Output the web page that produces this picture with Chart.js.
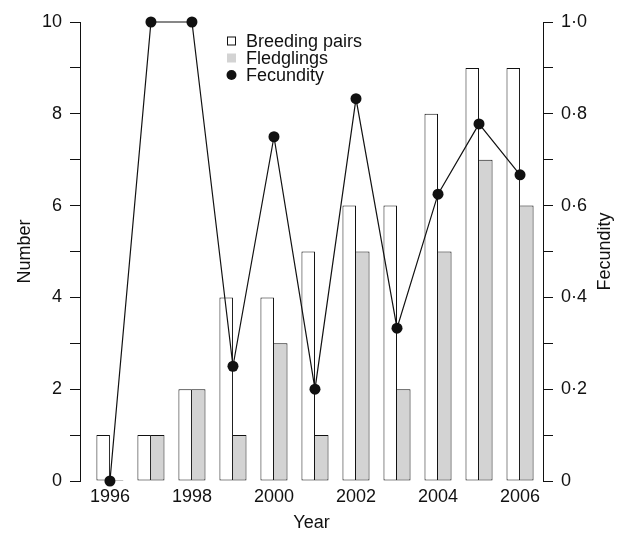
<!DOCTYPE html>
<html>
<head>
<meta charset="utf-8">
<script src="https://cdn.jsdelivr.net/npm/chart.js@4/dist/chart.umd.min.js"></script>
<style>
  html, body { margin: 0; padding: 0; background: #ffffff; }
  canvas { display: block; }
</style>
</head>
<body>
<canvas id="c" width="633" height="534"></canvas>
<script>
// ---- data ----
const years = [1996, 1997, 1998, 1999, 2000, 2001, 2002, 2003, 2004, 2005, 2006];
const breedingPairs = [1, 1, 2, 4, 4, 5, 6, 6, 8, 9, 9];
const fledglings = [0, 1, 2, 1, 3, 1, 5, 2, 5, 7, 6];
const fecundity = [0, 1.0, 1.0, 0.25, 0.75, 0.2, 0.833, 0.333, 0.625, 0.778, 0.667];
const yearTicks = [1996, 1998, 2000, 2002, 2004, 2006];
const numberTickLabels = ['0', '', '2', '', '4', '', '6', '', '8', '', '10'];
const fecundityTickLabels = ['0', '', '0·2', '', '0·4', '', '0·6', '', '0·8', '', '1·0'];
const seriesNames = ['Breeding pairs', 'Fledglings', 'Fecundity'];
const axisTitles = { x: 'Year', y: 'Number', yFec: 'Fecundity' };

const FONT = '"Liberation Sans", Arial, Helvetica, sans-serif';
const FS = 18;

const extrasPlugin = {
  id: 'extras',
  afterDraw(chart) {
    const ctx = chart.ctx;
    const ds = chart.data.datasets;
    const x0 = 227, rowY = [41, 58, 75];
    ctx.save();
    ctx.font = FS + 'px ' + FONT;
    ctx.textBaseline = 'middle';
    ds.forEach((d, i) => {
      const y = rowY[i];
      if (d.type === 'line') {
        ctx.beginPath();
        ctx.arc(x0 + 4.5, y, 5, 0, Math.PI * 2);
        ctx.fillStyle = d.pointBackgroundColor;
        ctx.fill();
      } else {
        ctx.fillStyle = d.backgroundColor;
        ctx.fillRect(x0, y - 4.5, 9, 9);
        if (d.legendBorder) {
          ctx.strokeStyle = '#111';
          ctx.lineWidth = 1;
          ctx.strokeRect(x0 + 0.5, y - 4, 8, 8);
        }
      }
      ctx.fillStyle = '#111';
      ctx.fillText(d.label, x0 + 19, y + 1);
    });
    // right axis title, reading bottom-to-top
    const s = chart.scales.yFec;
    ctx.translate(605, (s.top + s.bottom) / 2);
    ctx.rotate(-Math.PI / 2);
    ctx.textAlign = 'center';
    ctx.fillText(axisTitles.yFec, 0, 0);
    ctx.restore();
  }
};

new Chart(document.getElementById('c'), {
  type: 'bar',
  data: {
    datasets: [
      {
        label: seriesNames[0],
        data: years.map((y, i) => ({ x: y, y: breedingPairs[i] })),
        backgroundColor: '#ffffff',
        borderColor: '#111111',
        borderWidth: 1,
        borderSkipped: false,
        legendBorder: true,
        categoryPercentage: 0.66,
        barPercentage: 1.0,
        yAxisID: 'y',
        order: 1
      },
      {
        label: seriesNames[1],
        data: years.map((y, i) => ({ x: y, y: fledglings[i] })),
        backgroundColor: '#d3d3d3',
        borderColor: '#111111',
        borderWidth: { top: 1, right: 1, bottom: 1, left: 0 },
        borderSkipped: false,
        minBarLength: 1,
        categoryPercentage: 0.66,
        barPercentage: 1.0,
        yAxisID: 'y',
        order: 1
      },
      {
        type: 'line',
        label: seriesNames[2],
        data: years.map((y, i) => ({ x: y, y: fecundity[i] })),
        borderColor: '#111111',
        borderWidth: 1.2,
        pointBackgroundColor: '#111111',
        pointBorderColor: '#111111',
        pointRadius: 5.5,
        pointBorderWidth: 0,
        tension: 0,
        clip: false,
        yAxisID: 'yFec',
        order: 0
      }
    ]
  },
  options: {
    responsive: false,
    animation: false,
    devicePixelRatio: 1,
    layout: { padding: { top: 22, left: 0, right: 0, bottom: 0 } },
    plugins: {
      legend: { display: false },
      tooltip: { enabled: false }
    },
    scales: {
      x: {
        type: 'linear',
        offset: false,
        min: 1995.27,
        max: 2006.56,
        grid: { display: false, drawTicks: false },
        border: { display: false },
        afterBuildTicks(scale) { scale.ticks = yearTicks.map(v => ({ value: v })); },
        afterFit(scale) { scale.height = 53; },
        ticks: {
          color: '#111',
          font: { family: FONT, size: FS },
          padding: 5,
          maxRotation: 0,
          autoSkip: false,
          callback: (v) => String(v)
        },
        title: {
          display: true,
          text: axisTitles.x,
          color: '#111',
          font: { family: FONT, size: FS },
          padding: { top: 0, bottom: 0 }
        }
      },
      y: {
        position: 'left',
        min: 0,
        max: 10,
        afterBuildTicks(scale) { scale.ticks = numberTickLabels.map((_, i) => ({ value: i })); },
        afterFit(scale) { scale.width = 80; },
        grid: { drawOnChartArea: false, drawTicks: true, tickLength: 10, color: '#111', lineWidth: 1 },
        border: { display: true, color: '#111', width: 1 },
        ticks: {
          color: '#111',
          font: { family: FONT, size: FS },
          padding: 8,
          autoSkip: false,
          callback: (v, i) => numberTickLabels[i]
        },
        title: {
          display: true,
          text: axisTitles.y,
          color: '#111',
          font: { family: FONT, size: FS },
          padding: { top: 14, bottom: 0 }
        }
      },
      yFec: {
        position: 'right',
        min: 0,
        max: 1,
        afterBuildTicks(scale) { scale.ticks = fecundityTickLabels.map((_, i) => ({ value: i / 10 })); },
        afterFit(scale) { scale.width = 90; },
        grid: { drawOnChartArea: false, drawTicks: true, tickLength: 10, color: '#111', lineWidth: 1 },
        border: { display: true, color: '#111', width: 1 },
        ticks: {
          color: '#111',
          font: { family: FONT, size: FS },
          padding: 8,
          autoSkip: false,
          callback: (v, i) => fecundityTickLabels[i]
        },
        title: { display: false }
      }
    }
  },
  plugins: [extrasPlugin]
});
</script>
</body>
</html>
